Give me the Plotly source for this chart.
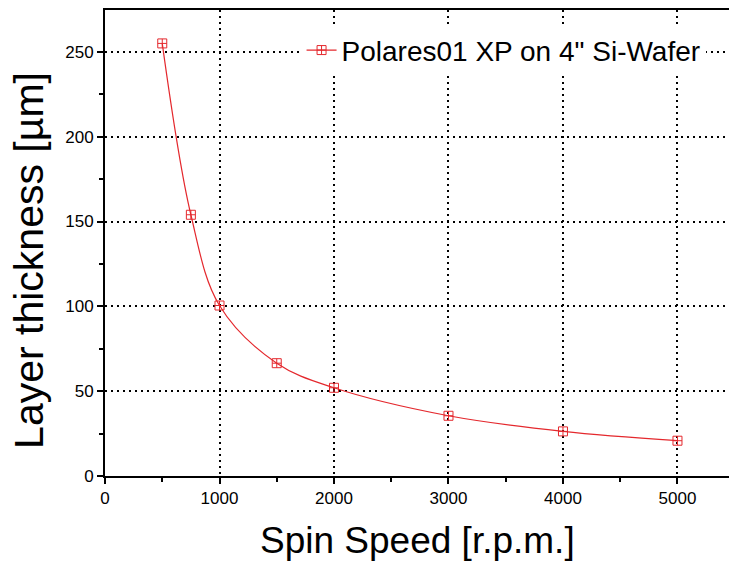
import plotly.graph_objects as go

spin_speed = [500, 750, 1000, 1500, 2000, 3000, 4000, 5000]
thickness = [255, 154, 100.5, 66.5, 52, 35.5, 26.3, 20.8]
x_ticks = [0, 1000, 2000, 3000, 4000, 5000]
y_ticks = [0, 50, 100, 150, 200, 250]
series_name = 'Polares01 XP on 4" Si-Wafer'

RED = "rgb(228,40,45)"
FONT = "Liberation Sans, Arial, sans-serif"

fig = go.Figure()
fig.add_trace(go.Scatter(
    x=spin_speed, y=thickness, name=series_name,
    mode="lines+markers",
    line=dict(color=RED, width=1.2, shape="spline", smoothing=1.0),
    marker=dict(symbol="square-cross-open", size=9, color=RED,
                line=dict(color=RED, width=1)),
))

axis_common = dict(
    showline=True, linecolor="black", linewidth=2,
    ticks="outside", ticklen=6, tickwidth=1.5, tickcolor="black",
    showgrid=True, gridcolor="black", gridwidth=1.5, griddash="2px,4px",
    zeroline=False,
    tickfont=dict(family=FONT, size=17, color="black"),
)

fig.update_layout(
    width=729, height=563,
    margin=dict(l=105, r=0, t=10, b=87),
    paper_bgcolor="white", plot_bgcolor="white",
    font=dict(family=FONT, color="black"),
    xaxis=dict(range=[0, 5450], tickvals=x_ticks, mirror=True,
               minor=dict(dtick=500, tick0=0, ticklen=4, tickwidth=1.5,
                          tickcolor="black", ticks="outside", showgrid=False),
               **axis_common),
    yaxis=dict(range=[0, 274.7], tickvals=y_ticks,
               minor=dict(dtick=25, tick0=0, ticklen=4, tickwidth=1.5,
                          tickcolor="black", ticks="outside", showgrid=False),
               **axis_common),
    showlegend=True,
    legend=dict(x=0.315, y=0.967, xanchor="left", yanchor="top",
                bgcolor="white", borderwidth=0,
                font=dict(family=FONT, size=28, color="black")),
    annotations=[
        dict(text="Spin Speed [r.p.m.]", xref="paper", yref="paper",
             x=0.5, y=-0.139, xanchor="center", yanchor="middle",
             showarrow=False, font=dict(family=FONT, size=37, color="black")),
        dict(text="Layer thickness [µm]", xref="paper", yref="paper",
             x=-0.122, y=0.4635, xanchor="center", yanchor="middle",
             textangle=-90, showarrow=False,
             font=dict(family=FONT, size=41, color="black")),
    ],
)

fig.write_html(
    "out.html",
    config={"displayModeBar": False},
    post_script="document.body.style.margin='0';document.body.style.overflow='hidden';",
)
